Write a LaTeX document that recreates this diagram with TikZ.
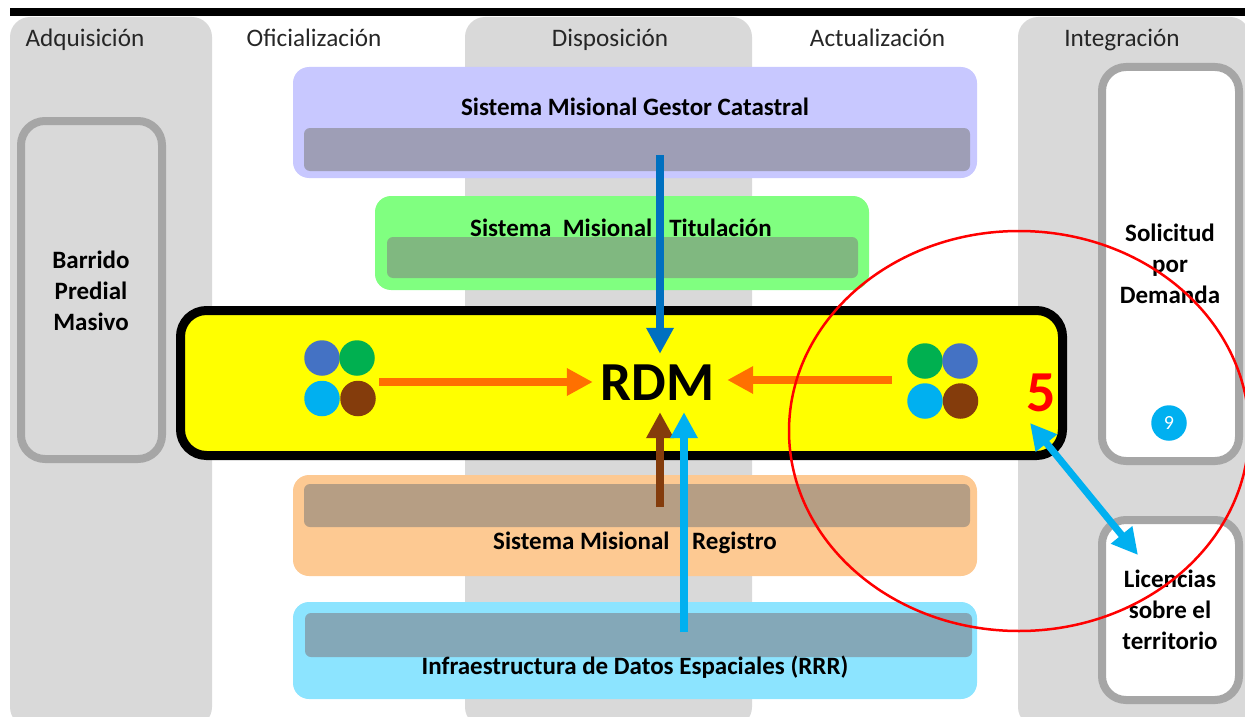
\documentclass[tikz,border=0pt]{standalone}
\usepackage{fontspec}
\setmainfont{Carlito}
\usetikzlibrary{arrows.meta,shapes.geometric}
\definecolor{bandgray}{HTML}{D9D9D9}
\definecolor{framegray}{HTML}{A6A6A6}
\definecolor{boxyellow}{HTML}{FFFF00}
\definecolor{dotblue}{HTML}{4472C4}
\definecolor{dotgreen}{HTML}{00B050}
\definecolor{dotcyan}{HTML}{00B0F0}
\definecolor{dotbrown}{HTML}{843C0C}
\definecolor{arroworange}{HTML}{FF7000}
\definecolor{arrowblue}{HTML}{0070C0}
\tikzset{
    band/.style={fill=bandgray, rounded corners=20pt, inner sep=0pt},
    bandtitle/.style={font=\fontsize{25.2}{28}\selectfont, inner sep=0pt, anchor=base, text=black!85},
    sysbox/.style={rounded corners=16pt, inner sep=0pt},
    sysbar/.style={rounded corners=6pt, inner sep=0pt},
    syslabel/.style={font=\fontsize{25}{28}\selectfont\bfseries, inner sep=0pt, anchor=base},
    frame/.style={draw=framegray, line width=8pt, rounded corners=24pt, inner sep=0pt},
    framelabel/.style={font=\fontsize{25}{31}\selectfont\bfseries, align=center, inner sep=0pt},
    dot/.style={circle, minimum size=35.5pt, inner sep=0pt},
    flow/.style={line width=8pt, -{Triangle[width=26pt,length=26pt]}}
}
\begin{document}
\begin{tikzpicture}[x=1pt, y=-1pt]
    \clip (0,0) rectangle (1245,717);
    % Columns
    \node[band, minimum width=202pt, minimum height=710pt] (adquisicion) at (111,372) {};
    \node[band, minimum width=287pt, minimum height=710pt] (disposicion) at (608.5,372) {};
    \node[band, minimum width=232pt, minimum height=710pt] (integracion) at (1134,372) {};
    \node[fill=black, minimum width=1235pt, minimum height=8pt, inner sep=0pt] (topbar) at (627.5,12) {};
    \node[bandtitle] (adquisiciontxt) at (85,46.5) {Adquisición};
    \node[bandtitle] (oficializaciontxt) at (314,46.5) {Oficialización};
    \node[bandtitle] (disposiciontxt) at (610,46.5) {Disposición};
    \node[bandtitle] (actualizaciontxt) at (877.5,46.5) {Actualización};
    \node[bandtitle] (integraciontxt) at (1122,46.5) {Integración};

    % Missional systems
    \node[sysbox, fill={rgb,255:red,200;green,200;blue,255}, minimum width=684pt, minimum height=111pt] (gestor) at (635,122.5) {};
    \node[sysbar, fill={rgb,255:red,158;green,158;blue,182}, minimum width=666pt, minimum height=43pt] (gestorbar) at (637,149.5) {};
    \node[syslabel] (gestortxt) at (635,115) {Sistema Misional Gestor Catastral};
    \node[sysbox, fill={rgb,255:red,128;green,255;blue,128}, minimum width=494pt, minimum height=94pt] (titulacion) at (622,243) {};
    \node[syslabel] (titulaciontxt) at (621,236) {Sistema\ \ Misional\ \ \ Titulación};
    \node[sysbar, fill={rgb,255:red,128;green,184;blue,128}, minimum width=471pt, minimum height=41pt] (titulacionbar) at (622.5,257.5) {};
    \node[sysbox, fill={rgb,255:red,253;green,201;blue,146}, minimum width=684pt, minimum height=101pt] (registro) at (635,525.5) {};
    \node[sysbar, fill={rgb,255:red,182;green,158;blue,132}, minimum width=666pt, minimum height=43pt] (registrobar) at (637,505.5) {};
    \node[syslabel] (registrotxt) at (635,549) {Sistema Misional\ \ \ \ Registro};
    \node[sysbox, fill={rgb,255:red,140;green,228;blue,255}, minimum width=684pt, minimum height=97pt] (datos) at (635,650.5) {};
    \node[sysbar, fill={rgb,255:red,132;green,168;blue,184}, minimum width=667pt, minimum height=44pt] (datosbar) at (638.5,635) {};
    \node[syslabel] (datostxt) at (635,674) {Infraestructura de Datos Espaciales (RRR)};

    % Side frames
    \node[frame, minimum width=141pt, minimum height=338pt] (barrido) at (91.5,290) {};
    \node[framelabel] (barridotxt) at (91,290.5) {Barrido\\Predial\\Masivo};
    \node[frame, fill=white, minimum width=137pt, minimum height=394pt] (solicitud) at (1170.5,264) {};
    \node[framelabel] (solicitudtxt) at (1170,264) {Solicitud\\por\\Demanda};
    \node[frame, fill=white, minimum width=137pt, minimum height=180pt] (licencias) at (1170.5,610) {};
    \node[framelabel] (licenciastxt) at (1170,610) {Licencias\\sobre el\\territorio};
    \node[circle, fill=dotcyan, minimum size=35.5pt, inner sep=0pt, text=white, font=\fontsize{20}{22}\selectfont] (nueve) at (1169,423) {9};

    % Central box
    \node[draw=black, fill=boxyellow, line width=9pt, rounded corners=26pt, minimum width=882pt, minimum height=145pt, inner sep=0pt] (rdmbox) at (621.5,383) {};
    \node[minimum width=134pt, minimum height=58pt, inner sep=0pt, font=\fontsize{55}{60}\selectfont\bfseries] (rdm) at (660,383) {\kern-5pt RDM};
    \node[dot, fill=dotblue] (lblue) at (322,358) {};
    \node[dot, fill=dotgreen] (lgreen) at (357,358) {};
    \node[dot, fill=dotcyan] (lcyan) at (322,398.5) {};
    \node[dot, fill=dotbrown] (lbrown) at (358,398.5) {};
    \node[dot, fill=dotgreen] (rgreen) at (925,361) {};
    \node[dot, fill=dotblue] (rblue) at (960,361) {};
    \node[dot, fill=dotcyan] (rcyan) at (925,401) {};
    \node[dot, fill=dotbrown] (rbrown) at (960.5,401) {};
    \node[font=\fontsize{58}{60}\selectfont\bfseries, text=red, inner sep=0pt] (cinco) at (1041,393) {5};

    % Arrows
    \coordinate (gestorout) at (660,155);
    \coordinate (registroout) at (660,507);
    \coordinate (datosout) at (684,632);
    \coordinate (leftout) at (379,382);
    \coordinate (rightout) at (892,380);
    \coordinate (boxend) at (1030,423);
    \coordinate (licend) at (1138,555);
    \draw[flow, arrowblue] (gestorout) -- (rdm.north);
    \draw[flow, dotbrown] (registroout) -- (rdm.south);
    \draw[flow, dotcyan] (datosout) -- (rdm.south -| datosout);
    \draw[flow, arroworange] (leftout) -- (rdm.west |- leftout);
    \draw[flow, arroworange] (rightout) -- (rdm.east |- rightout);
    \draw[line width=7pt, dotcyan, {Triangle[width=26pt,length=26pt]}-{Triangle[width=26pt,length=26pt]}] (boxend) -- (licend);

    % Highlight
    \node[draw=red, line width=2.5pt, ellipse, minimum width=460pt, minimum height=400pt, inner sep=0pt] (zona) at (1019,431) {};
\end{tikzpicture}
\end{document}
